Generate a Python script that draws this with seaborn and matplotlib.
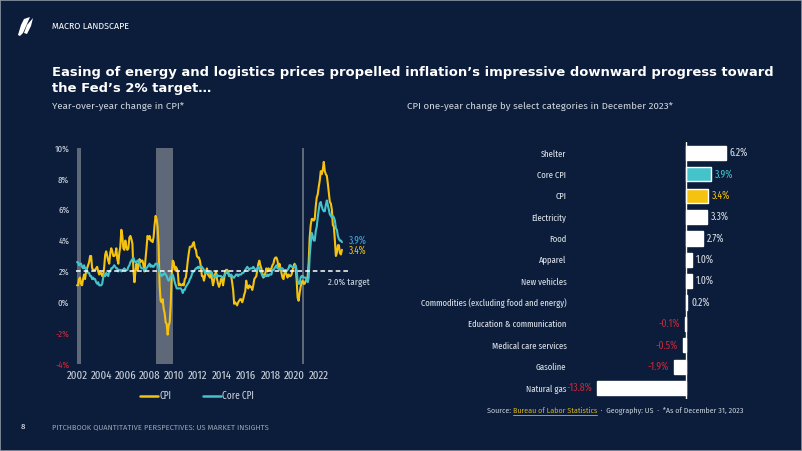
import numpy as np
import pandas as pd
import matplotlib
matplotlib.use("Agg")
import matplotlib.pyplot as plt
from matplotlib.patches import Polygon, Rectangle
from matplotlib.lines import Line2D
from matplotlib.textpath import TextPath
from matplotlib.font_manager import FontProperties
import seaborn as sns

# ---- data ----
cpi = [
    1.1, 1.1, 1.5, 1.6, 1.2, 1.1, 1.5, 1.8, 1.5, 2.0, 2.2, 2.4,
    2.6, 3.0, 3.0, 2.2, 2.1, 2.1, 2.1, 2.2, 2.3, 2.0, 1.8, 1.9,
    1.9, 1.7, 1.7, 2.3, 3.1, 3.3, 3.0, 2.7, 2.5, 3.2, 3.5, 3.3,
    3.0, 3.0, 3.1, 3.5, 2.8, 2.5, 3.2, 3.6, 4.7, 4.3, 3.5, 3.4,
    4.0, 3.6, 3.4, 3.5, 4.2, 4.3, 4.1, 3.8, 2.1, 1.3, 2.0, 2.5,
    2.1, 2.4, 2.8, 2.6, 2.7, 2.7, 2.4, 2.0, 2.8, 3.5, 4.3, 4.1,
    4.3, 4.0, 4.0, 3.9, 4.2, 5.0, 5.6, 5.4, 4.9, 3.7, 1.1, 0.1,
    0.0, 0.2, -0.4, -0.7, -1.3, -1.4, -2.1, -1.5, -1.3, -0.2, 1.8, 2.7,
    2.6, 2.1, 2.3, 2.2, 2.0, 1.1, 1.2, 1.1, 1.1, 1.2, 1.1, 1.5,
    1.6, 2.1, 2.7, 3.2, 3.6, 3.6, 3.6, 3.8, 3.9, 3.5, 3.4, 3.0,
    2.9, 2.9, 2.7, 2.3, 1.7, 1.7, 1.4, 1.7, 2.0, 2.2, 1.8, 1.7,
    1.6, 2.0, 1.5, 1.1, 1.4, 1.8, 2.0, 1.5, 1.2, 1.0, 1.2, 1.5,
    1.6, 1.1, 1.5, 2.0, 2.1, 2.1, 2.0, 1.7, 1.7, 1.7, 1.3, 0.8,
    -0.1, 0.0, -0.1, -0.2, 0.0, 0.1, 0.2, 0.2, 0.0, 0.2, 0.5, 0.7,
    1.4, 1.0, 0.9, 1.1, 1.0, 1.0, 0.8, 1.1, 1.5, 1.6, 1.7, 2.1,
    2.5, 2.7, 2.4, 2.2, 1.9, 1.6, 1.7, 1.9, 2.2, 2.0, 2.2, 2.1,
    2.1, 2.2, 2.4, 2.5, 2.8, 2.9, 2.9, 2.7, 2.3, 2.5, 2.2, 1.9,
    1.6, 1.5, 1.9, 2.0, 1.8, 1.6, 1.8, 1.7, 1.7, 1.8, 2.1, 2.3,
    2.5, 2.3, 1.5, 0.3, 0.1, 0.6, 1.0, 1.3, 1.4, 1.2, 1.2, 1.4,
    1.4, 1.7, 2.6, 4.2, 5.0, 5.4, 5.4, 5.3, 5.4, 6.2, 6.8, 7.0,
    7.5, 7.9, 8.5, 8.3, 8.6, 9.1, 8.5, 8.3, 8.2, 7.7, 7.1, 6.5,
    6.4, 6.0, 5.0, 4.9, 4.0, 3.0, 3.2, 3.7, 3.7, 3.2, 3.1, 3.4,
]
core_cpi = [
    2.6, 2.6, 2.4, 2.5, 2.5, 2.3, 2.2, 2.4, 2.2, 2.2, 2.0, 1.9,
    1.9, 1.7, 1.7, 1.5, 1.6, 1.5, 1.5, 1.3, 1.2, 1.3, 1.1, 1.1,
    1.1, 1.2, 1.6, 1.8, 1.7, 1.9, 1.8, 1.7, 2.0, 2.0, 2.2, 2.2,
    2.3, 2.4, 2.3, 2.2, 2.2, 2.0, 2.1, 2.1, 2.0, 2.1, 2.1, 2.2,
    2.1, 2.1, 2.1, 2.3, 2.4, 2.6, 2.7, 2.8, 2.9, 2.7, 2.6, 2.6,
    2.7, 2.7, 2.5, 2.3, 2.2, 2.2, 2.2, 2.1, 2.1, 2.2, 2.3, 2.4,
    2.5, 2.3, 2.4, 2.3, 2.3, 2.4, 2.5, 2.5, 2.5, 2.2, 2.0, 1.8,
    1.7, 1.8, 1.8, 1.9, 1.8, 1.7, 1.5, 1.4, 1.5, 1.7, 1.7, 1.8,
    1.6, 1.3, 1.1, 0.9, 0.9, 0.9, 0.9, 0.9, 0.8, 0.6, 0.8, 0.8,
    1.0, 1.1, 1.2, 1.3, 1.5, 1.6, 1.8, 2.0, 2.0, 2.1, 2.2, 2.2,
    2.3, 2.2, 2.3, 2.3, 2.3, 2.2, 2.1, 1.9, 2.0, 2.0, 1.9, 1.9,
    1.9, 2.0, 1.9, 1.7, 1.7, 1.6, 1.7, 1.8, 1.7, 1.7, 1.7, 1.7,
    1.6, 1.6, 1.7, 1.8, 2.0, 1.9, 1.9, 1.7, 1.7, 1.8, 1.7, 1.6,
    1.6, 1.7, 1.8, 1.8, 1.7, 1.8, 1.8, 1.8, 1.9, 1.9, 2.0, 2.1,
    2.2, 2.3, 2.2, 2.1, 2.2, 2.2, 2.2, 2.3, 2.2, 2.1, 2.1, 2.2,
    2.3, 2.2, 2.0, 1.9, 1.7, 1.7, 1.7, 1.7, 1.7, 1.8, 1.7, 1.8,
    1.8, 1.8, 2.1, 2.1, 2.2, 2.3, 2.4, 2.2, 2.2, 2.1, 2.2, 2.2,
    2.2, 2.1, 2.0, 2.1, 2.0, 2.1, 2.2, 2.4, 2.4, 2.3, 2.3, 2.3,
    2.3, 2.4, 2.1, 1.4, 1.2, 1.2, 1.6, 1.7, 1.7, 1.6, 1.6, 1.6,
    1.4, 1.3, 1.6, 3.0, 3.8, 4.5, 4.3, 4.0, 4.0, 4.6, 4.9, 5.5,
    6.0, 6.4, 6.5, 6.2, 6.0, 5.9, 5.9, 6.3, 6.6, 6.3, 6.0, 5.7,
    5.6, 5.5, 5.6, 5.5, 5.3, 4.8, 4.7, 4.3, 4.1, 4.0, 4.0, 3.9,
]
start_year = 2002
year_ticks = list(range(2002, 2023, 2))
y_ticks = [10, 8, 6, 4, 2, 0, -2, -4]
recession_spans = [(2001.98, 2002.36), (2008.51, 2009.92), (2020.64, 2020.74)]
fed_target = 2.0

categories = ["Shelter", "Core CPI", "CPI", "Electricity", "Food", "Apparel",
              "New vehicles", "Commodities (excluding food and energy)",
              "Education & communication", "Medical care services",
              "Gasoline", "Natural gas"]
changes = [6.2, 3.9, 3.4, 3.3, 2.7, 1.0, 1.0, 0.2, -0.1, -0.5, -1.9, -13.8]

title_lines = ["Easing of energy and logistics prices propelled inflation’s impressive downward progress toward",
               "the Fed’s 2% target…"]

# ---- style ----
BG = "#0b1d3b"
YELLOW = "#f5c20f"
TEAL = "#45c3cb"
RED = "#c8283a"
LIGHT = "#cdd3dc"
CAT = "#dde2e9"
GRAY_BAND = "#5e6878"
XNARROW = ["Fira Sans Extra Condensed", "Fira Sans Condensed", "DejaVu Sans"]
MAIN = ["Fira Sans", "Open Sans", "DejaVu Sans"]


def fit_size(text, family, target_px, weight="normal"):
    # font size (pt) that makes text about target_px wide at 100 dpi
    w = TextPath((0, 0), text, size=10,
                 prop=FontProperties(family=family, weight=weight)).get_extents().width
    return 10 * target_px / (w * 100 / 72)


sns.set_theme(style="dark")
plt.rcParams["font.family"] = MAIN

fig = plt.figure(figsize=(8.02, 4.51), dpi=100, facecolor=BG)

months = np.arange(len(cpi))
df = pd.DataFrame({
    "year": start_year + months / 12.0,
    "CPI": cpi,
    "Core CPI": core_cpi,
})
long = df.melt(id_vars="year", var_name="series", value_name="yoy")

# ---- left: line chart ----
ax = fig.add_axes([70 / 802, 1 - 364 / 451, 282 / 802, 216 / 451])
ax.set_facecolor(BG)
for a, b in recession_spans:
    ax.axvspan(a, b, color=GRAY_BAND, lw=0, zorder=1)
sns.lineplot(data=long, x="year", y="yoy", hue="series",
             palette={"CPI": YELLOW, "Core CPI": TEAL},
             hue_order=["CPI", "Core CPI"], lw=1.5, legend=False, ax=ax, zorder=3)
ax.hlines(fed_target, 2001.95, 2024.5, colors="white", linestyles=(0, (3, 2)),
          lw=1.1, zorder=4)
ax.text(2022.76, fed_target - 0.42, f"{fed_target:.1f}% target", color=LIGHT,
        fontsize=7, family=XNARROW, ha="left", va="top", clip_on=False)
ax.set_xlim(2001.42, 2024.75)
ax.set_ylim(-4, 10)
ax.set_xticks(year_ticks)
ax.set_xticklabels([str(y) for y in year_ticks], family=XNARROW, fontsize=8.4, color=LIGHT)
ax.set_yticks(y_ticks)
ax.set_yticklabels([f"{v}%" for v in y_ticks], family=XNARROW, fontsize=7)
for lab, v in zip(ax.get_yticklabels(), y_ticks):
    lab.set_color(RED if v < 0 else LIGHT)
ax.tick_params(axis="y", length=0, pad=0.5)
ax.tick_params(axis="x", length=0, pad=5)
ax.set_xlabel("")
ax.set_ylabel("")
ax.grid(False)
for s in ax.spines.values():
    s.set_visible(False)
last_x = df["year"].iloc[-1]
ax.text(last_x + 0.55, core_cpi[-1] + 0.1, f"{core_cpi[-1]:.1f}%", color="#4aa8d8",
        fontsize=7.3, family=XNARROW, va="center", clip_on=False)
ax.text(last_x + 0.55, cpi[-1] - 0.05, f"{cpi[-1]:.1f}%", color=YELLOW,
        fontsize=7.3, family=XNARROW, va="center", clip_on=False)
handles = [Line2D([], [], color=YELLOW, lw=1.8), Line2D([], [], color=TEAL, lw=1.8)]
leg = ax.legend(handles, ["CPI", "Core CPI"], loc="center", bbox_to_anchor=(0.45, -0.148),
                ncol=2, frameon=False, handlelength=1.8, handletextpad=0.1,
                columnspacing=3.1, prop={"family": XNARROW, "size": 7.3})
for t in leg.get_texts():
    t.set_color(LIGHT)

# ---- right: bar chart ----
bx = fig.add_axes([572 / 802, 1 - 398.7 / 451, 218 / 802, 256.4 / 451])
bx.set_facecolor(BG)
bar_df = pd.DataFrame({"category": categories, "change": changes})
bar_colors = {c: "white" for c in categories}
bar_colors["Core CPI"] = TEAL
bar_colors["CPI"] = YELLOW
sns.barplot(data=bar_df, y="category", x="change", hue="category",
            palette=bar_colors, orient="h", width=0.66, legend=False,
            saturation=1, ax=bx, zorder=2)
bx.axvline(0, color="white", lw=1.0, zorder=3)
bx.set_xlim(-17.67, 16.12)
bx.set_xticks([])
bx.set_xlabel("")
bx.set_ylabel("")
bx.tick_params(axis="y", length=0, pad=4)
cat_size = fit_size("Commodities (excluding food and energy)", XNARROW, 146)
for lab in bx.get_yticklabels():
    lab.set_family(XNARROW)
    lab.set_fontsize(cat_size)
    lab.set_color(CAT)
bx.grid(False)
for s in bx.spines.values():
    s.set_visible(False)
for i, (c, v) in enumerate(zip(categories, changes)):
    if v >= 0:
        col = TEAL if c == "Core CPI" else (YELLOW if c == "CPI" else CAT)
        bx.text(v + 0.6, i, f"{v:.1f}%", color=col, fontsize=7.5, family=XNARROW,
                ha="left", va="center")
    else:
        bx.text(v - 0.8, i, f"{v:.1f}%", color=RED, fontsize=7.5, family=XNARROW,
                ha="right", va="center")

# ---- page text ----
fig.text(52 / 802, 1 - 26 / 451, "MACRO LANDSCAPE", color="white", fontsize=6.4,
         va="center", ha="left")
title_family = ["DejaVu Sans"]
title_size = fit_size(title_lines[0], title_family, 716, weight="bold")
fig.text(52 / 802, 1 - 80.5 / 451, "\n".join(title_lines), color="white",
         fontsize=title_size, fontweight="bold", family=title_family,
         va="center", ha="left", linespacing=1.35)
fig.text(52 / 802, 1 - 106 / 451, "Year-over-year change in CPI*", color=LIGHT,
         fontsize=7, va="center", ha="left")
fig.text(407 / 802, 1 - 106 / 451,
         "CPI one-year change by select categories in December 2023*", color=LIGHT,
         fontsize=7, va="center", ha="left")

src_y = 1 - 411 / 451
t1 = fig.text(487 / 802, src_y, "Source: ", color=LIGHT, fontsize=5.2, va="center", ha="left")
fig.canvas.draw()
r = fig.canvas.get_renderer()
bb = t1.get_window_extent(r)
t2 = fig.text(bb.x1 / 802, src_y, "Bureau of Labor Statistics", color="#d9b21a",
              fontsize=5.2, va="center", ha="left")
bb2 = t2.get_window_extent(r)
fig.add_artist(Line2D([bb2.x0 / 802, bb2.x1 / 802], [(bb2.y0 - 0.5) / 451] * 2,
                      color="#d9b21a", lw=0.6))
fig.text(bb2.x1 / 802, src_y, "  ·  Geography: US  ·  *As of December 31, 2023",
         color=LIGHT, fontsize=5.2, va="center", ha="left")

fig.text(23 / 802, 1 - 427 / 451, "8", color="white", fontsize=5.6, va="center", ha="center")
fig.text(52 / 802, 1 - 427 / 451, "PITCHBOOK QUANTITATIVE PERSPECTIVES: US MARKET INSIGHTS",
         color="#9aa4b2", fontsize=5.45, va="center", ha="left")

# logo (two sail shapes)
sail1 = [(18, 416), (21, 426), (24, 432), (30, 434), (27, 427), (23, 418), (20, 415)]
sail2 = [(24, 418), (27, 426), (33, 433), (31, 425), (27, 417)]
for pts in (sail1, sail2):
    fig.add_artist(Polygon([(x / 802, y / 451) for x, y in pts], closed=True,
                           facecolor="white", edgecolor="none", transform=fig.transFigure))

fig.add_artist(Rectangle((0, 0), 1, 1, transform=fig.transFigure, fill=False,
                         edgecolor="#8d96a3", lw=1.2))

fig.savefig("out.png", dpi=100, facecolor=BG)
